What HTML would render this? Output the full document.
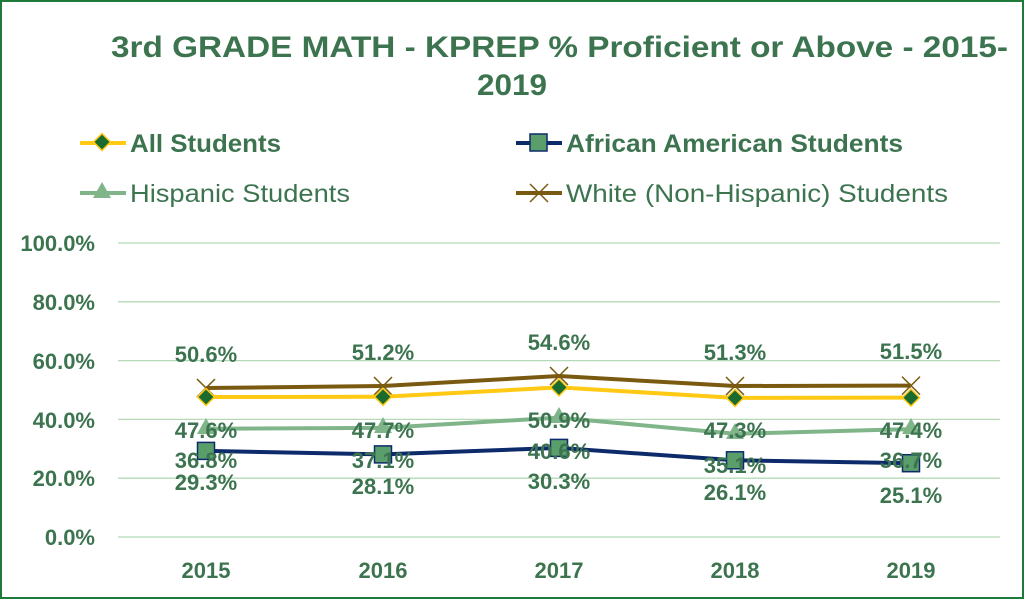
<!DOCTYPE html>
<html><head><style>
body{margin:0;background:#fff}
svg{display:block}
text{font-family:"Liberation Sans",sans-serif;fill:#3d7450}
</style></head><body>
<svg width="1024" height="599" viewBox="0 0 1024 599">
<rect x="1" y="1" width="1022" height="597" fill="#fff" stroke="#1e7a3a" stroke-width="2"/>
<text x="111" y="57" font-size="30" font-weight="bold" textLength="897" lengthAdjust="spacingAndGlyphs">3rd GRADE MATH - KPREP % Proficient or Above - 2015-</text>
<text x="477" y="95" font-size="30" font-weight="bold" textLength="70" lengthAdjust="spacingAndGlyphs">2019</text>
<!-- legend -->
<line x1="80" y1="143" x2="126" y2="143" stroke="#ffc914" stroke-width="4"/>
<rect x="96" y="136" width="12" height="12" fill="#1a6b2f" stroke="#ffc914" stroke-width="1.5" transform="rotate(45 102 142)"/>
<text x="130" y="152" font-size="25" font-weight="bold" textLength="151" lengthAdjust="spacingAndGlyphs">All Students</text>
<line x1="516" y1="143" x2="562" y2="143" stroke="#0d2a6b" stroke-width="4"/>
<rect x="530" y="134" width="17" height="17" fill="#5a9e6b" stroke="#0d2a6b" stroke-width="1.5"/>
<text x="566" y="152" font-size="25" font-weight="bold" textLength="337" lengthAdjust="spacingAndGlyphs">African American Students</text>
<line x1="80" y1="193" x2="126" y2="193" stroke="#80b58a" stroke-width="4"/>
<polygon points="102,182 111,198 93,198" fill="#80b58a"/>
<text x="130" y="202" font-size="25" textLength="220" lengthAdjust="spacingAndGlyphs">Hispanic Students</text>
<line x1="516" y1="193" x2="562" y2="193" stroke="#7a5a10" stroke-width="4"/>
<path d="M530,184 L548,202 M548,184 L530,202" stroke="#7a5a10" stroke-width="1.5"/>
<text x="566" y="202" font-size="25" textLength="382" lengthAdjust="spacingAndGlyphs">White (Non-Hispanic) Students</text>
<!-- grid -->
<g stroke="#b5d9b7" stroke-width="1.3">
<line x1="118" y1="243" x2="1000" y2="243"/>
<line x1="118" y1="301.8" x2="1000" y2="301.8"/>
<line x1="118" y1="360.6" x2="1000" y2="360.6"/>
<line x1="118" y1="419.4" x2="1000" y2="419.4"/>
<line x1="118" y1="478.2" x2="1000" y2="478.2"/>
<line x1="118" y1="537" x2="1000" y2="537"/>
</g>
<g font-size="22" font-weight="bold" text-anchor="end">
<text x="95" y="251">100.0%</text>
<text x="95" y="310">80.0%</text>
<text x="95" y="369">60.0%</text>
<text x="95" y="428">40.0%</text>
<text x="95" y="486">20.0%</text>
<text x="95" y="545">0.0%</text>
</g>
<g font-size="22" font-weight="bold" text-anchor="middle">
<text x="206" y="578">2015</text><text x="383" y="578">2016</text><text x="559" y="578">2017</text><text x="735" y="578">2018</text><text x="911" y="578">2019</text>
</g>
<!-- series -->
<polyline points="206,388 383,386 559,376 735,386 911,385.6" fill="none" stroke="#7a5a10" stroke-width="4"/>
<g stroke="#7a5a10" stroke-width="1.5">
<path d="M197,379l18,18M215,379l-18,18"/><path d="M374,377l18,18M392,377l-18,18"/><path d="M550,367l18,18M568,367l-18,18"/><path d="M726,377l18,18M744,377l-18,18"/><path d="M902,376.6l18,18M920,376.6l-18,18"/>
</g>
<polyline points="206,397 383,396.8 559,387.4 735,397.9 911,397.6" fill="none" stroke="#ffc914" stroke-width="4"/>
<g fill="#1a6b2f" stroke="#ffc914" stroke-width="1.5">
<rect x="200" y="391" width="12" height="12" transform="rotate(45 206 397)"/>
<rect x="377" y="390.8" width="12" height="12" transform="rotate(45 383 396.8)"/>
<rect x="553" y="381.4" width="12" height="12" transform="rotate(45 559 387.4)"/>
<rect x="729" y="391.9" width="12" height="12" transform="rotate(45 735 397.9)"/>
<rect x="905" y="391.6" width="12" height="12" transform="rotate(45 911 397.6)"/>
</g>
<polyline points="206,428.8 383,427.9 559,417.6 735,433.8 911,429.1" fill="none" stroke="#80b58a" stroke-width="4"/>
<g fill="#80b58a">
<polygon points="206,418 215,434 197,434"/><polygon points="383,417 392,433 374,433"/><polygon points="559,407 568,423 550,423"/><polygon points="735,423 744,439 726,439"/><polygon points="911,418 920,434 902,434"/>
</g>
<polyline points="206,450.9 383,454.4 559,447.9 735,460.3 911,463.2" fill="none" stroke="#0d2a6b" stroke-width="4"/>
<g fill="#5a9e6b" stroke="#0d2a6b" stroke-width="1.5">
<rect x="197.5" y="442.4" width="17" height="17"/><rect x="374.5" y="445.9" width="17" height="17"/><rect x="550.5" y="439.4" width="17" height="17"/><rect x="726.5" y="451.8" width="17" height="17"/><rect x="902.5" y="454.7" width="17" height="17"/>
</g>
<!-- labels -->
<g font-size="22" font-weight="bold" text-anchor="middle">
<text x="206" y="362">50.6%</text><text x="383" y="360">51.2%</text><text x="559" y="350">54.6%</text><text x="735" y="360">51.3%</text><text x="911" y="359">51.5%</text>
<text x="206" y="438">47.6%</text><text x="383" y="438">47.7%</text><text x="559" y="428">50.9%</text><text x="735" y="438">47.3%</text><text x="911" y="438">47.4%</text>
<text x="206" y="468">36.8%</text><text x="383" y="468">37.1%</text><text x="559" y="459">40.6%</text><text x="735" y="473">35.1%</text><text x="911" y="468">36.7%</text>
<text x="206" y="490">29.3%</text><text x="383" y="494">28.1%</text><text x="559" y="489">30.3%</text><text x="735" y="500">26.1%</text><text x="911" y="503">25.1%</text>
</g>
</svg>
</body></html>
